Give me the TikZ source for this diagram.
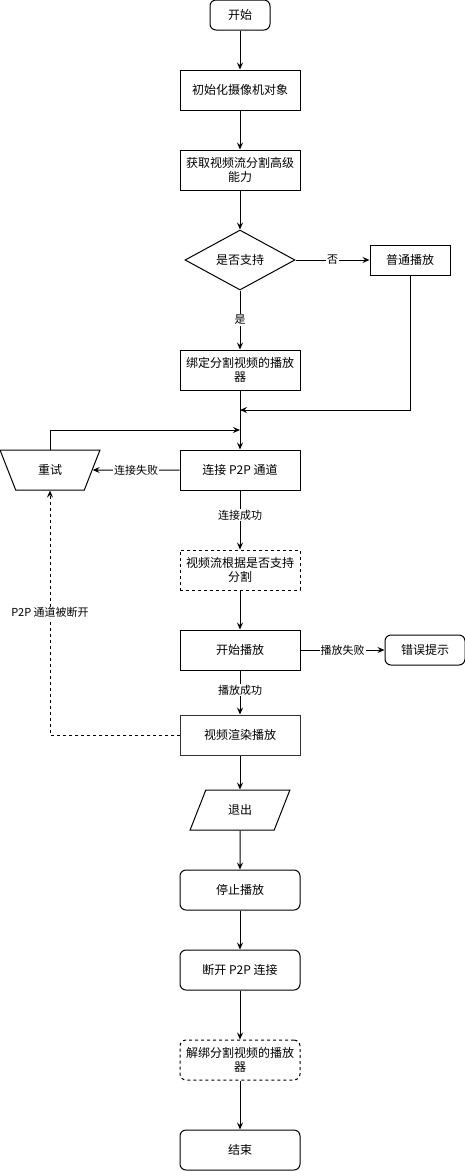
\documentclass[tikz,border=0pt]{standalone}
\usepackage{fontspec}
\setmainfont{Noto Sans CJK SC}
\usetikzlibrary{shapes.geometric,arrows.meta}

\begin{document}
\begin{tikzpicture}[x=1pt,y=-1pt,line width=1pt,font=\fontsize{12}{14}\selectfont]
        \tikzstyle{box}=[draw,rectangle,minimum width=120pt,minimum height=40pt,inner sep=2pt,align=center]
        \tikzstyle{roundbox}=[box,rounded corners=6pt]
        \tikzstyle{smallbox}=[box,minimum width=80pt,minimum height=30pt]
        \tikzstyle{arrow}=[-{Stealth[length=7pt,width=6pt,inset=2.5pt]}]
        \tikzstyle{lbl}=[fill=white,inner sep=1pt,font=\fontsize{11}{13}\selectfont]
        \useasboundingbox (0,0) rectangle (465,1171);
        % main column
        \node[roundbox,minimum width=60pt,minimum height=30pt] (start) at (240,15) {开始};
        \node[box] (init) at (240,90) {初始化摄像机对象};
        \node[box] (ability) at (240,170) {获取视频流分割高级\\能力};
        \node[draw,diamond,minimum width=110pt,minimum height=60pt,inner sep=0pt] (support) at (240,260) {是否支持};
        \node[smallbox] (normal) at (410,260) {普通播放};
        \node[box] (bind) at (240,370) {绑定分割视频的播放\\器};
        \node[box] (connect) at (240,470) {连接 P2P 通道};
        \node[draw,trapezium,trapezium angle=63.43,trapezium stretches=true,shape border rotate=180,minimum width=100pt,minimum height=40pt,inner sep=0pt] (retry) at (50,470) {重试};
        \node[box,dashed] (split) at (240,570) {视频流根据是否支持\\分割};
        \node[box] (play) at (240,650) {开始播放};
        \node[smallbox,rounded corners=6pt] (error) at (425,650) {错误提示};
        \node[box,draw=black!80] (render) at (240,735) {视频渲染播放};
        \node[draw,trapezium,trapezium left angle=63.43,trapezium right angle=116.57,trapezium stretches=true,minimum width=100pt,minimum height=40pt,inner sep=0pt] (quit) at (240,810) {退出};
        \node[roundbox] (stop) at (240,890) {停止播放};
        \node[roundbox] (disconnect) at (240,970) {断开 P2P 连接};
        \node[roundbox,dashed] (unbind) at (240,1060) {解绑分割视频的播放\\器};
        \node[roundbox] (end) at (240,1150) {结束};
        \coordinate (merge) at (240,410);
        \coordinate (loop) at (240,430);
        % connectors
        \draw[arrow] (start) -- (init);
        \draw[arrow] (init) -- (ability);
        \draw[arrow] (ability) -- (support);
        \draw[arrow] (support) -- node[lbl] {否} (normal);
        \draw[arrow] (support) -- node[lbl] {是} (bind);
        \draw[arrow] (normal.south) |- (merge);
        \draw[arrow] (bind) -- (connect);
        \draw[arrow] (retry.north) |- (loop);
        \draw[arrow] (connect) -- node[lbl] {连接失败} (retry.east);
        \draw[arrow] (connect) -- node[lbl,pos=0.42] {连接成功} (split);
        \draw[arrow] (split) -- (play);
        \draw[arrow] (play) -- node[lbl] {播放失败} (error);
        \draw[arrow] (play) -- node[lbl,pos=0.45] {播放成功} (render);
        \draw[arrow,dashed] (render.west) -| node[lbl,pos=0.75] {P2P 通道被断开} (retry.south);
        \draw[arrow] (render) -- (quit);
        \draw[arrow] (quit) -- (stop);
        \draw[arrow] (stop) -- (disconnect);
        \draw[arrow] (disconnect) -- (unbind);
        \draw[arrow] (unbind) -- (end);
    \end{tikzpicture}
\end{document}
